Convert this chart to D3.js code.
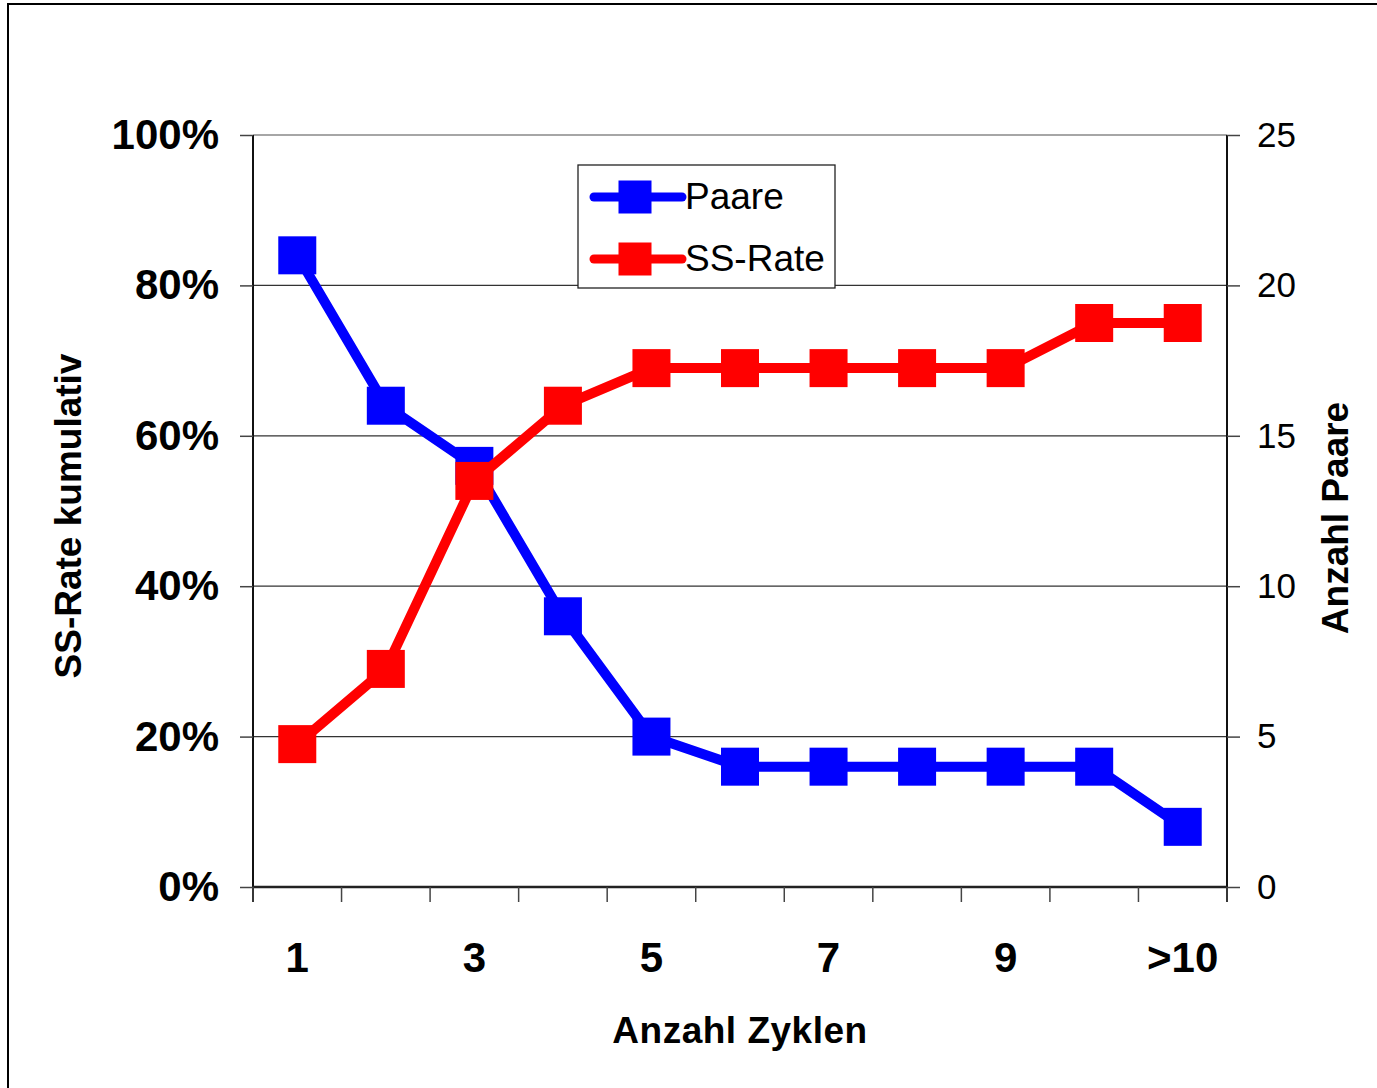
<!DOCTYPE html>
<html>
<head>
<meta charset="utf-8">
<script src="https://cdn.jsdelivr.net/npm/d3@7"></script>
<style>
  body { margin: 0; background: #fff; }
  text { font-family: "Liberation Sans", Arial, sans-serif; }
</style>
</head>
<body>
<div class="canvas"></div>
<script>
// chart data
const categories = ['1', '2', '3', '4', '5', '6', '7', '8', '9', '10', '>10'];
const xLabels = ['1', '3', '5', '7', '9', '>10'];
const paare = [21, 16, 14, 9, 5, 4, 4, 4, 4, 4, 2];
const ssRate = [0.19, 0.29, 0.54, 0.64, 0.69, 0.69, 0.69, 0.69, 0.69, 0.75, 0.75];
const leftTicks = [0, 0.2, 0.4, 0.6, 0.8, 1];
const rightTicks = [0, 5, 10, 15, 20, 25];

const dims = { width: 1377, height: 1088 };
const plot = { left: 253, right: 1227, top: 135, bottom: 887 };
const markerSize = 38;

const svg = d3.select('.canvas')
  .append('svg')
  .attr('width', dims.width)
  .attr('height', dims.height);

// outer frame (only left and top edges visible in picture)
svg.append('rect')
  .attr('x', 8).attr('y', 4)
  .attr('width', dims.width + 20).attr('height', dims.height + 20)
  .attr('fill', 'none')
  .attr('stroke', '#000')
  .attr('stroke-width', 2);

const x = d3.scaleBand()
  .domain(categories)
  .range([plot.left, plot.right]);

const yLeft = d3.scaleLinear()
  .domain([0, 1])
  .range([plot.bottom, plot.top]);

const yRight = d3.scaleLinear()
  .domain([0, 25])
  .range([plot.bottom, plot.top]);

// gridlines
svg.append('g')
  .selectAll('line')
  .data(leftTicks.slice(1))
  .enter()
  .append('line')
    .attr('x1', plot.left).attr('x2', plot.right)
    .attr('y1', d => yLeft(d)).attr('y2', d => yLeft(d))
    .attr('stroke', d => d === 1 ? '#888' : '#333')
    .attr('stroke-width', 1.3);

// left axis
const leftAxis = svg.append('g')
  .attr('transform', `translate(${plot.left}, 0)`)
  .call(d3.axisLeft(yLeft).tickValues(leftTicks).tickFormat(d3.format('.0%')).tickSize(13).tickPadding(21));

// right axis
const rightAxis = svg.append('g')
  .attr('transform', `translate(${plot.right}, 0)`)
  .call(d3.axisRight(yRight).tickValues(rightTicks).tickSize(13).tickPadding(17));

// x axis with ticks at category boundaries
const xAxis = svg.append('g')
  .attr('transform', `translate(0, ${plot.bottom})`);

xAxis.append('line')
  .attr('x1', plot.left).attr('x2', plot.right)
  .attr('stroke', '#222').attr('stroke-width', 2.5);

xAxis.selectAll('.bound')
  .data(categories.concat(['end']))
  .enter()
  .append('line')
    .attr('class', 'bound')
    .attr('x1', (d, i) => plot.left + i * x.step())
    .attr('x2', (d, i) => plot.left + i * x.step())
    .attr('y1', 0).attr('y2', 15)
    .attr('stroke', '#444').attr('stroke-width', 1.5);

xAxis.selectAll('.xlabel')
  .data(xLabels)
  .enter()
  .append('text')
    .attr('class', 'xlabel')
    .attr('x', d => x(d) + x.bandwidth() / 2)
    .attr('y', 85)
    .attr('text-anchor', 'middle')
    .style('font-size', '42px')
    .style('font-weight', 'bold')
    .text(d => d);

[leftAxis, rightAxis].forEach(ax => {
  ax.select('.domain').attr('stroke', '#111').attr('stroke-width', 2);
  ax.selectAll('.tick line').attr('stroke', '#444').attr('stroke-width', 1.5);
});
leftAxis.selectAll('.domain').attr('d', `M-0,${plot.top}V${plot.bottom + 15}`);
rightAxis.selectAll('.domain').attr('d', `M0,${plot.top}V${plot.bottom + 15}`);

leftAxis.selectAll('.tick text')
  .attr('fill', '#000')
  .style('font-size', '42px')
  .style('font-weight', 'bold')
  .style('font-family', '"Liberation Sans", Arial, sans-serif');

rightAxis.selectAll('.tick text')
  .attr('fill', '#000')
  .style('font-size', '35px')
  .style('font-family', '"Liberation Sans", Arial, sans-serif');

// axis titles
svg.append('text')
  .attr('transform', 'translate(81, 516) rotate(-90)')
  .attr('text-anchor', 'middle')
  .style('font-size', '37px')
  .style('font-weight', 'bold')
  .text('SS-Rate kumulativ');

svg.append('text')
  .attr('transform', 'translate(1348, 518) rotate(-90)')
  .attr('text-anchor', 'middle')
  .style('font-size', '37px')
  .style('font-weight', 'bold')
  .text('Anzahl Paare');

svg.append('text')
  .attr('x', 740).attr('y', 1043)
  .attr('text-anchor', 'middle')
  .style('font-size', '37px')
  .style('font-weight', 'bold')
  .style('letter-spacing', '0.5px')
  .text('Anzahl Zyklen');

// series
const series = [
  { name: 'Paare', colour: '#0000ff', values: paare, scale: yRight },
  { name: 'SS-Rate', colour: '#ff0000', values: ssRate, scale: yLeft }
];

series.forEach(s => {
  const line = d3.line()
    .x((d, i) => x(categories[i]) + x.bandwidth() / 2)
    .y(d => s.scale(d));

  svg.append('path')
    .datum(s.values)
    .attr('d', line)
    .attr('fill', 'none')
    .attr('stroke', s.colour)
    .attr('stroke-width', 10)
    .attr('stroke-linejoin', 'round');

  svg.append('g')
    .selectAll('rect')
    .data(s.values)
    .enter()
    .append('rect')
      .attr('x', (d, i) => x(categories[i]) + x.bandwidth() / 2 - markerSize / 2)
      .attr('y', d => s.scale(d) - markerSize / 2)
      .attr('width', markerSize)
      .attr('height', markerSize)
      .attr('fill', s.colour);
});

// legend
const legendBox = { x: 578, y: 165, w: 257, h: 123 };
svg.append('rect')
  .attr('x', legendBox.x).attr('y', legendBox.y)
  .attr('width', legendBox.w).attr('height', legendBox.h)
  .attr('fill', '#fff')
  .attr('stroke', '#222')
  .attr('stroke-width', 1.3);

const legend = svg.selectAll('.legend')
  .data(series)
  .enter()
  .append('g')
  .attr('class', 'legend')
  .attr('transform', (d, i) => `translate(${legendBox.x}, ${legendBox.y + 32 + i * 62})`);

legend.append('line')
  .attr('x1', 16).attr('x2', 104)
  .attr('stroke', d => d.colour)
  .attr('stroke-width', 9)
  .attr('stroke-linecap', 'round');

legend.append('rect')
  .attr('x', 57 - 16.5).attr('y', -16.5)
  .attr('width', 33).attr('height', 33)
  .attr('fill', d => d.colour);

legend.append('text')
  .attr('x', 107)
  .attr('y', 12)
  .style('font-size', '37px')
  .text(d => d.name);
</script>
</body>
</html>
